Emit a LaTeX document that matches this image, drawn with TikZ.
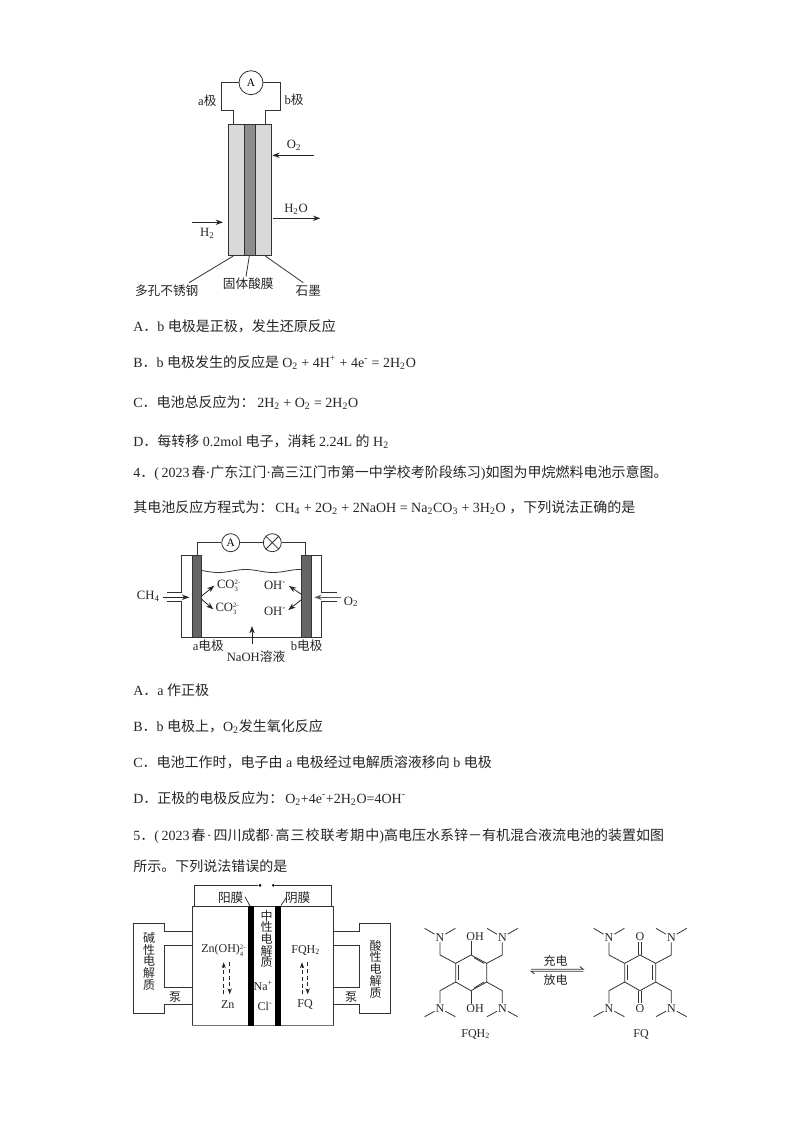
\documentclass[tikz,border=0pt]{standalone}
\usepackage{fontspec}
\setmainfont{Liberation Serif}
\newfontfamily\cjk{Noto Sans CJK SC}
\newfontfamily\cjks[LetterSpace=7]{Noto Sans CJK SC}
\usetikzlibrary{arrows.meta}
\newcommand\zh[1]{{\cjk #1}}
\newcommand\dn[1]{\textsubscript{#1}}
\newcommand\ion[2]{\rlap{\raisebox{0.62ex}{\fontsize{5}{5}\selectfont #2}}\raisebox{-0.62ex}{\fontsize{5}{5}\selectfont #1}}
\tikzset{
 body/.style={anchor=base west,inner sep=0pt,font=\fontsize{10.5}{12}\selectfont,text=black!85},
 lab/.style={inner sep=0pt,font=\fontsize{9.5}{11}\selectfont,text=black!85},
 small/.style={inner sep=0pt,font=\fontsize{9}{10}\selectfont,text=black!85},
 atom/.style={inner sep=0.6pt,font=\fontsize{9}{10}\selectfont,text=black!85},
 wire/.style={draw=black!80,line width=0.6pt},
 arr/.style={draw=black!85,line width=0.6pt,-{Stealth[length=5.5pt,width=4pt]}},
 darr/.style={draw=black!85,line width=0.6pt,densely dashed,-{Stealth[length=4.5pt,width=3.2pt]}},
 dot/.style={circle,fill=black,inner sep=0pt,minimum size=2.2pt},
 meter/.style={circle,draw=black!80,line width=0.6pt,inner sep=0pt,fill=white,font=\fontsize{8.5}{10}\selectfont},
}
\newcommand\NMe[6]{%
  \node[atom] (#1) at (#3,#4) {N};
  \draw[wire] (#2) -- (#3,#5) -- (#1);
  \draw[wire] (#1) -- ({#3-46},#6);
  \draw[wire] (#1) -- ({#3+46},#6);
}
\newcommand\ringpts[1]{%
  \coordinate (#1t) at (183,165); \coordinate (#1ur) at (230,190);
  \coordinate (#1lr) at (230,246); \coordinate (#1b) at (183,272);
  \coordinate (#1ll) at (137,246); \coordinate (#1ul) at (137,190);
  \draw[wire] (#1t) -- (#1ur) -- (#1lr) -- (#1b) -- (#1ll) -- (#1ul) -- cycle;
  \draw[wire] (146,196) -- (146,240);
  \NMe{#1na}{#1ul}{90}{112}{165}{85}
  \NMe{#1nb}{#1ur}{277}{112}{165}{85}
  \NMe{#1nc}{#1ll}{90}{325}{272}{350}
  \NMe{#1nd}{#1lr}{277}{325}{272}{350}
}
\begin{document}
\begin{tikzpicture}[x=0.75pt,y=-0.75pt]
\useasboundingbox (0,0) rectangle (794,1123);
\fill[white] (0,0) rectangle (794,1123);

% ---------- figure 1 ----------
\node[meter,minimum size=24*0.75pt] (m1) at (251,82.7) {A};
\draw[wire] (m1) -- (221,82.7) -- (221,110.7) -- (233,110.7) -- (233,124.3);
\draw[wire] (m1) -- (280.3,82.7) -- (280.3,110.7) -- (265.3,110.7) -- (265.3,124.3);
\filldraw[fill=black!15,draw=black!80,line width=0.6pt] (228,124.3) rectangle (271.7,255.3);
\filldraw[fill=black!45,draw=black!80,line width=0.6pt] (244.3,124.3) rectangle (255,255.3);
\node[lab] (la) at (207.3,101) {a\zh{极}};
\node[lab] (lb) at (294,100) {b\zh{极}};
\coordinate (o2s) at (313.7,155.3); \coordinate (o2e) at (272.3,155.3);
\draw[arr] (o2s) -- (o2e);
\node[lab] (o2) at (294,145.5) {O\dn{2}};
\coordinate (ws) at (273,218.3); \coordinate (we) at (320.3,218.3);
\draw[arr] (ws) -- (we);
\node[lab] (h2o) at (296,209) {H\dn{2}O};
\coordinate (hs) at (192,222.3); \coordinate (he) at (223,222.3);
\draw[arr] (hs) -- (he);
\node[lab] (h2) at (207.3,233.5) {H\dn{2}};
\node[lab] (p1) at (166.7,291) {\zh{多孔不锈钢}};
\node[lab] (p2) at (248.3,284) {\zh{固体酸膜}};
\node[lab] (p3) at (308.3,291) {\zh{石墨}};
\draw[wire] (233.3,256) -- (189,282.7);
\draw[wire] (249.3,256) -- (246,276.7);
\draw[wire] (265.3,256) -- (303.3,282.7);

% ---------- question 3 options ----------
\node[body] (a3) at (133,331) {A\zh{．}b \zh{电极是正极，发生还原反应}};
\node[body] (b3) at (133,367) {B\zh{．}b \zh{电极发生的反应是}};
\node[body] (b3e) at (282,367) {O\dn{2} + 4H\textsuperscript{+} + 4e\textsuperscript{-} = 2H\dn{2}O};
\node[body] (c3) at (133,407) {C\zh{．电池总反应为：}};
\node[body] (c3e) at (257,407) {2H\dn{2} + O\dn{2} = 2H\dn{2}O};
\node[body] (d3) at (133,446) {D\zh{．每转移} 0.2mol \zh{电子，消耗} 2.24L \zh{的} H\dn{2}};

% ---------- question 4 ----------
\node[body] (q4) at (133,477) {4\zh{．}(\hspace{2pt}2023\hspace{1.5pt}\zh{春}·\zh{广东江门}·\zh{高三江门市第一中学校考阶段练习})\zh{如图为甲烷燃料电池示意图。}};
\node[body] (q4b) at (133,512) {\zh{其电池反应方程式为：}};
\node[body] (q4e) at (275,512) {CH\dn{4} + 2O\dn{2} + 2NaOH = Na\dn{2}CO\dn{3} + 3H\dn{2}O};
\node[body] (q4c) at (509,512) {\zh{，下列说法正确的是}};

% ---------- figure 2 ----------
\coordinate (ela) at (197.3,555); \coordinate (elb) at (305.3,555);
\node[meter,minimum size=18*0.75pt] (m2) at (230.7,542.7) {A};
\node[meter,minimum size=18*0.75pt] (lamp) at (272.3,542.7) {};
\draw[wire] (lamp.north east) -- (lamp.south west) (lamp.north west) -- (lamp.south east);
\draw[wire] (ela) -- (197.3,542.7) -- (m2) -- (lamp) -- (305.3,542.7) -- (elb);
\filldraw[fill=black!60,draw=black!80,line width=0.4pt] (192.3,555) rectangle (201.7,637.7);
\filldraw[fill=black!60,draw=black!80,line width=0.4pt] (301,555) rectangle (311,637.7);
\draw[wire] (192.3,555) -- (181.7,555) -- (181.7,592.7) -- (166.7,592.7);
\draw[wire] (166.7,601.7) -- (181.7,601.7) -- (181.7,637.7) -- (321,637.7) -- (321,601.7) -- (336.7,601.7);
\draw[wire] (336.7,592.7) -- (321,592.7) -- (321,555) -- (311,555);
\draw[wire] plot[domain=201.7:301,samples=70] (\x,{571+1.5*sin(6.6*(\x-201.7)-20)});
\coordinate (c1s) at (163.3,597.3); \coordinate (c1e) at (189.3,597.3);
\draw[arr] (c1s) -- (c1e);
\coordinate (c2s) at (341.3,597.3); \coordinate (c2e) at (314.3,597.3);
\draw[arr,line width=0.8pt,draw=black!65] (c2s) -- (c2e);
\node[lab] (ch4) at (148.3,596) {CH\dn{4}};
\node[lab] (o2b) at (351,601.7) {O\dn{2}};
\draw[arr] (201.7,596) -- (214.3,585.7);
\draw[arr] (201.7,599.3) -- (213.3,609.3);
\draw[arr] (301,594) -- (289,586);
\draw[arr] (301,600) -- (288.3,610);
\node[lab] (co1) at (227.5,586) {CO\ion{3}{2-}\hspace{0.6em}};
\node[lab] (co2) at (226,609) {CO\ion{3}{2-}\hspace{0.6em}};
\node[lab] (oh1) at (275,585.5) {OH\textsuperscript{-}};
\node[lab] (oh2) at (275,611) {OH\textsuperscript{-}};
\draw[arr] (252,644) -- (252,626);
\node[lab] (ae) at (208.3,646) {a\zh{电极}};
\node[lab] (be) at (306.7,646) {b\zh{电极}};
\node[lab] (naoh) at (256,657) {NaOH\zh{溶液}};

% ---------- question 4 options ----------
\node[body] (a4) at (133,695) {A\zh{．}a \zh{作正极}};
\node[body] (b4) at (133,731) {B\zh{．}b \zh{电极上，}O\dn{2}\zh{发生氧化反应}};
\node[body] (c4) at (133,767) {C\zh{．电池工作时，电子由} a \zh{电极经过电解质溶液移向} b \zh{电极}};
\node[body] (d4) at (133,803) {D\zh{．正极的电极反应为：}};
\node[body] (d4e) at (285,803) {O\dn{2}+4e\textsuperscript{-}+2H\dn{2}O=4OH\textsuperscript{-}};

% ---------- question 5 ----------
\node[body] (q5) at (133,840) {5\zh{．}(\hspace{2pt}2023\hspace{1.5pt}\zh{春}\hspace{1pt}·\hspace{1.5pt}\zh{四川成都}·\hspace{1pt}{\cjks 高三校联考期中})\zh{高电压水系锌－有机混合液流电池的装置如图}};
\node[body] (q5b) at (133,871) {\zh{所示。下列说法错误的是}};

% ---------- figure 3 ----------
\draw[wire] (192,906) rectangle (333.7,1025.7);
\draw[draw=black!55,line width=1pt] (192,1025.7) -- (333.7,1025.7);
\fill[black] (248,906) rectangle (254,1025.7);
\fill[black] (275.3,906) rectangle (281.3,1025.7);
\node[dot] (sw1) at (260,885.3) {};
\node[dot] (sw2) at (273.3,885.3) {};
\draw[wire] (194.3,906) -- (194.3,885.3) -- (sw1);
\draw[wire] (sw2) -- (331.7,885.3) -- (331.7,906);
\node[lab] (ym) at (230.7,897.7) {\zh{阳膜}};
\node[lab] (ym2) at (297.7,897.7) {\zh{阴膜}};
\draw[wire] (245,896.7) -- (250,906);
\draw[wire] (286.7,897) -- (281,905.5);
\foreach \i/\c in {0/中,1/性,2/电,3/解,4/质}
  \node[small] (mid\i) at (266.7,915.7+\i*11.6) {\zh{\c}};
\node[small] (na) at (263.3,986) {Na\textsuperscript{+}};
\node[small] (cl) at (265,1006.7) {Cl\textsuperscript{-}};
\node[small] (zoh) at (222.3,950.3) {Zn(OH)\ion{4}{2-}\hspace{0.5em}};
\node[small] (zn) at (227.7,1004.3) {Zn};
\node[small] (fqh) at (305.7,950.3) {FQH\dn{2}};
\node[small] (fq) at (305,1004.3) {FQ};
\draw[darr] (223.7,994.3) -- (223.7,962.3);
\draw[darr] (229.7,962.3) -- (229.7,994.3);
\draw[darr] (302,994.3) -- (302,962.3);
\draw[darr] (307.7,962.3) -- (307.7,994.3);
\draw[wire] (192,931.7) -- (164.3,931.7) -- (164.3,923.3) -- (133.3,923.3) -- (133.3,1013) -- (164.3,1013) -- (164.3,1004.3) -- (192,1004.3);
\draw[wire] (192,945.7) -- (164.3,945.7) -- (164.3,987) -- (192,987);
\draw[wire] (333.7,931.7) -- (359.7,931.7) -- (359.7,923.3) -- (390.7,923.3) -- (390.7,1013) -- (359.7,1013) -- (359.7,1004.3) -- (333.7,1004.3);
\draw[wire] (333.7,945.7) -- (359.7,945.7) -- (359.7,987) -- (333.7,987);
\foreach \i/\c in {0/碱,1/性,2/电,3/解,4/质}
  \node[small] (lt\i) at (149,937.7+\i*11.8) {\zh{\c}};
\foreach \i/\c in {0/酸,1/性,2/电,3/解,4/质}
  \node[small] (rt\i) at (375.7,945.7+\i*11.7) {\zh{\c}};
\node[small] (pl) at (175,997) {\zh{泵}};
\node[small] (pr) at (351,997) {\zh{泵}};

% ---------- molecules ----------
\begin{scope}[shift={(410,900)},x=0.25pt,y=-0.25pt]
  \ringpts{A}
  \draw[wire] (192,173) -- (222,190);
  \draw[wire] (192,264) -- (222,246);
  \node[atom] (Aoh1) at (195,110) {OH};
  \node[atom] (Aoh2) at (195,325) {OH};
  \draw[wire] (At) -- (183,122);
  \draw[wire] (Ab) -- (183,313);
  \node[small] (fqh2) at (197,402) {FQH\dn{2}};
\end{scope}
\begin{scope}[shift={(579,900)},x=0.25pt,y=-0.25pt]
  \ringpts{B}
  \draw[wire] (221,196) -- (221,240);
  \node[atom] (Bo1) at (183,110) {O};
  \node[atom] (Bo2) at (183,325) {O};
  \draw[wire] (179,125) -- (179,165) (187,125) -- (187,165);
  \draw[wire] (179,272) -- (179,310) (187,272) -- (187,310);
  \node[small] (fq2) at (186,402) {FQ};
\end{scope}
\node[small] (chg) at (555.7,961) {\zh{充电}};
\node[small] (dis) at (555.7,980) {\zh{放电}};
\draw[wire] (531,969.2) -- (583.3,969.2) -- (579.8,966.5);
\draw[wire] (583.3,971.2) -- (531,971.2) -- (534.5,973.9);
\end{tikzpicture}
\end{document}
